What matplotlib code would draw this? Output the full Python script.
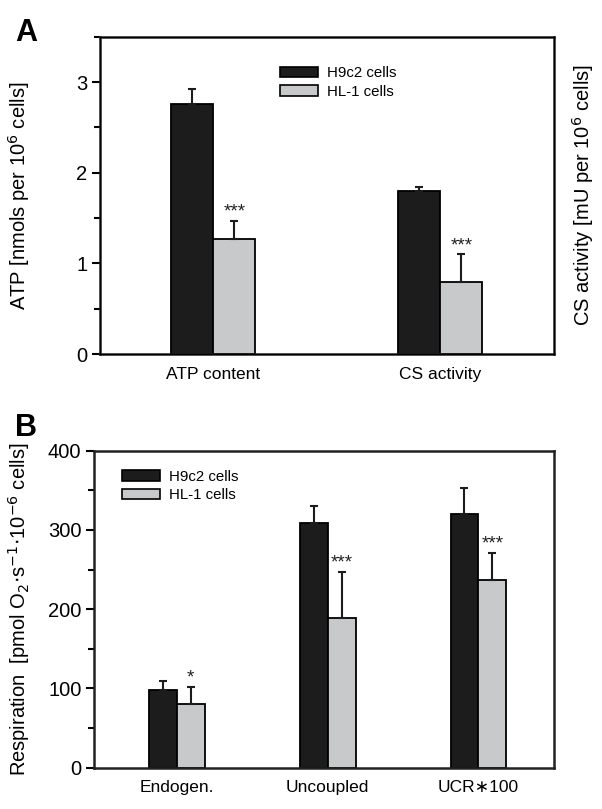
import matplotlib
matplotlib.use('Agg')
import matplotlib.pyplot as plt
import numpy as np
from matplotlib.patches import Patch

plt.rcParams['font.family'] = ['Liberation Sans', 'DejaVu Sans']

# panel A data
a_groups = ['ATP content', 'CS activity']
a_h9c2 = [2.76, 1.80]
a_h9c2_err = [0.17, 0.04]
a_hl1 = [1.27, 0.80]
a_hl1_err = [0.20, 0.30]
a_stars = ['***', '***']

# panel B data
b_groups = ['Endogen.', 'Uncoupled', 'UCR\u2217100']
b_h9c2 = [98, 309, 320]
b_h9c2_err = [11, 21, 33]
b_hl1 = [80, 189, 237]
b_hl1_err = [22, 58, 34]
b_stars = ['*', '***', '***']

dark = '#1c1c1c'
grey = '#c8c9cb'
w = 0.185

fig = plt.figure(figsize=(6.02, 8.09), dpi=100)
axA = fig.add_axes([0.166, 0.5624, 0.754, 0.392])
axB = fig.add_axes([0.156, 0.0511, 0.764, 0.3918])


def draw(ax, groups, v1, e1, v2, e2, stars, star_off):
    x = np.arange(len(groups))
    ax.bar(x - w / 2, v1, w, color=dark, edgecolor='black', linewidth=1.3,
           yerr=[np.zeros(len(v1)), e1], capsize=3,
           error_kw=dict(elinewidth=1.5, capthick=1.5, ecolor='#1c1c1c'))
    ax.bar(x + w / 2, v2, w, color=grey, edgecolor='black', linewidth=1.3,
           yerr=[np.zeros(len(v2)), e2], capsize=3,
           error_kw=dict(elinewidth=1.5, capthick=1.5, ecolor='#1c1c1c'))
    for i in range(len(groups)):
        ax.annotate(stars[i], (x[i] + w / 2, v2[i] + e2[i]), xytext=(0, star_off),
                    textcoords='offset pixels', ha='center', va='bottom',
                    fontsize=13.5, color='#222222')
    ax.set_xticks(x)
    ax.set_xticklabels(groups, fontsize=12.5)
    ax.tick_params(axis='x', length=0, pad=9)
    ax.tick_params(axis='y', which='major', length=6, width=1.5, labelsize=14.5, pad=3)
    ax.tick_params(axis='y', which='minor', length=4, width=1.5)
    for s in ax.spines.values():
        s.set_linewidth(1.8)
        s.set_color('#222222')


draw(axA, a_groups, a_h9c2, a_h9c2_err, a_hl1, a_hl1_err, a_stars, 0)
axA.set_xlim(-0.5, 1.5)
axA.set_ylim(0, 3.5)
axA.set_yticks([0, 1, 2, 3])
axA.set_yticks([0.5, 1.5, 2.5, 3.5], minor=True)
axA.set_ylabel('ATP [nmols per 10$^6$ cells]', fontsize=14.5)
axA.yaxis.set_label_coords(-0.150, 0.5)
axA2 = axA.twinx()
axA2.set_yticks([])
axA2.set_ylabel('CS activity [mU per 10$^6$ cells]', fontsize=14.5)
axA2.yaxis.set_label_coords(1.035, 0.5)

draw(axB, b_groups, b_h9c2, b_h9c2_err, b_hl1, b_hl1_err, b_stars, 0)
axB.set_xlim(-0.55, 2.5)
axB.set_ylim(0, 400)
axB.set_yticks([0, 100, 200, 300, 400])
axB.set_yticks([50, 150, 250, 350], minor=True)
axB.set_ylabel('Respiration  [pmol O$_2$$\\cdot$s$^{-1}$$\\cdot$10$^{-6}$ cells]', fontsize=14.5)
axB.yaxis.set_label_coords(-0.135, 0.5)

handles = [Patch(facecolor=dark, edgecolor='black', linewidth=1.2, label='H9c2 cells'),
           Patch(facecolor=grey, edgecolor='black', linewidth=1.2, label='HL-1 cells')]
axA.legend(handles=handles, loc='upper left', bbox_to_anchor=(0.367, 0.95), frameon=False,
           fontsize=10.8, handlelength=2.5, handleheight=0.7, labelspacing=0.3, handletextpad=0.6)
axB.legend(handles=handles, loc='upper left', bbox_to_anchor=(0.032, 0.983), frameon=False,
           fontsize=10.8, handlelength=2.5, handleheight=0.7, labelspacing=0.3, handletextpad=0.6)

fig.text(0.025, 0.978, 'A', fontsize=22, fontweight='bold', va='top')
fig.text(0.025, 0.489, 'B', fontsize=22, fontweight='bold', va='top')

fig.savefig('out.png', dpi=100)
